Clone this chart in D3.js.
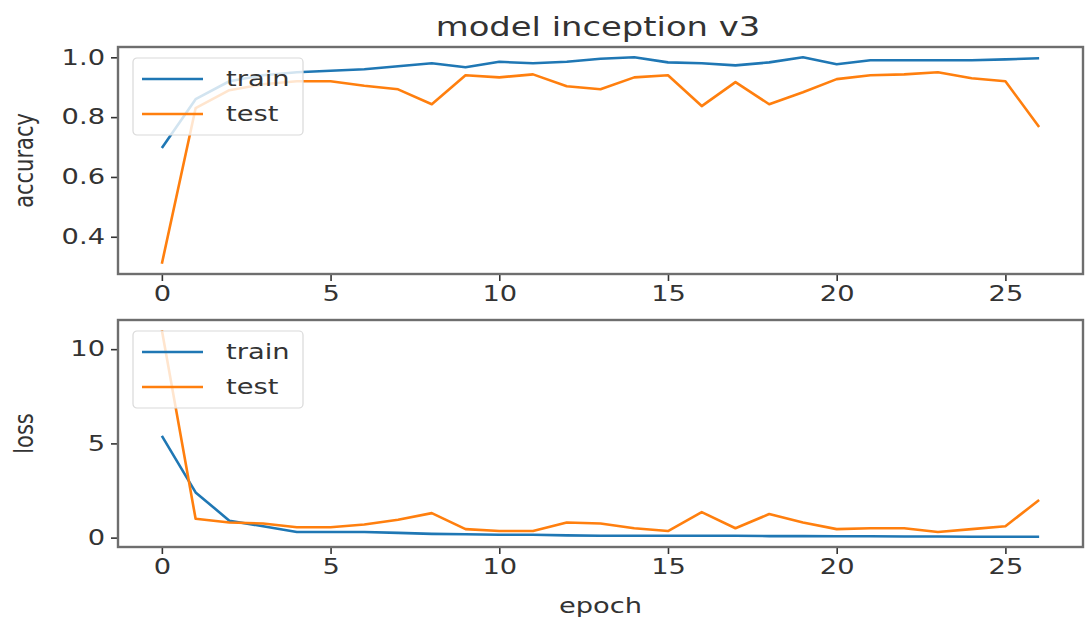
<!DOCTYPE html>
<html>
<head>
<meta charset="utf-8">
<script src="https://cdn.jsdelivr.net/npm/d3@7"></script>
<style>
  body { margin: 0; background: #fff; }
  text { font-family: "DejaVu Sans", sans-serif; fill: #333; }
</style>
</head>
<body>
<div class="chart"></div>
<script>
// Values
var epochs = d3.range(0, 27);
var accTrain = [0.697, 0.86, 0.92, 0.94, 0.95, 0.955, 0.96, 0.97, 0.98, 0.967, 0.985, 0.98, 0.985, 0.995, 1.0,
  0.983, 0.98, 0.973, 0.983, 1.0, 0.977, 0.99, 0.99, 0.99, 0.99, 0.993, 0.997];
var accTest = [0.31, 0.83, 0.89, 0.91, 0.92, 0.92, 0.905, 0.893, 0.843, 0.94, 0.933, 0.943, 0.903, 0.893, 0.933,
  0.94, 0.837, 0.917, 0.843, 0.883, 0.927, 0.94, 0.943, 0.95, 0.93, 0.92, 0.767];
var lossTrain = [5.4, 2.4, 0.9, 0.6, 0.3, 0.3, 0.3, 0.25, 0.2, 0.18, 0.15, 0.15, 0.12, 0.1, 0.1,
  0.1, 0.1, 0.1, 0.08, 0.08, 0.07, 0.07, 0.06, 0.06, 0.05, 0.05, 0.05];
var lossTest = [11.0, 1.0, 0.8, 0.75, 0.55, 0.55, 0.7, 0.95, 1.3, 0.45, 0.35, 0.35, 0.8, 0.75, 0.5,
  0.35, 1.35, 0.5, 1.25, 0.8, 0.45, 0.5, 0.5, 0.3, 0.45, 0.6, 2.0];
var xTicks = [0, 5, 10, 15, 20, 25];
var accTicks = [0.4, 0.6, 0.8, 1.0];
var lossTicks = [0, 5, 10];
var seriesNames = ["train", "test"];
var colors = ["#1f77b4", "#ff7f0e"];

var width = 1086, height = 626;
var left = 118, right = 1083;
var stretch = 1.3; // the picture's text is wider than it is tall

var svg = d3.select(".chart").append("svg")
  .attr("width", width)
  .attr("height", height);

// x scale shared by both panels (matplotlib style 5% margins)
var x = d3.scaleLinear()
  .domain([-1.3, 27.3])
  .range([left, right]);

function padded(arrs) {
  var all = [].concat.apply([], arrs);
  var lo = d3.min(all), hi = d3.max(all), m = (hi - lo) * 0.05;
  return [lo - m, hi + m];
}

function stretchText(sel, tx, ty, rot) {
  sel.attr("transform", "translate(" + tx + "," + ty + ") scale(" + stretch + ",1)" + (rot ? " rotate(" + rot + ")" : ""));
}

function panel(top, bottom, train, test, yTicks, yFormat, yLabel, xLabel) {
  var y = d3.scaleLinear()
    .domain(padded([train, test]))
    .range([bottom, top]);

  var g = svg.append("g");

  // lines
  var line = d3.line()
    .x(function(d, i) { return x(epochs[i]); })
    .y(function(d) { return y(d); });

  [train, test].forEach(function(s, i) {
    g.append("path")
      .datum(s)
      .attr("fill", "none")
      .attr("stroke", colors[i])
      .attr("stroke-width", 2.6)
      .attr("stroke-linejoin", "round")
      .attr("d", line);
  });

  // axes
  var xAxis = g.append("g")
    .attr("transform", "translate(0," + bottom + ")")
    .call(d3.axisBottom(x).tickValues(xTicks).tickSize(7).tickPadding(5).tickSizeOuter(0));
  var yAxis = g.append("g")
    .attr("transform", "translate(" + left + ",0)")
    .call(d3.axisLeft(y).tickValues(yTicks).tickFormat(yFormat).tickSize(7).tickPadding(6).tickSizeOuter(0));

  [xAxis, yAxis].forEach(function(a) {
    a.select(".domain").remove();
    a.selectAll(".tick line").attr("stroke", "#333").attr("stroke-width", 1.6);
    a.selectAll(".tick text")
      .style("font-size", "21px")
      .attr("fill", "#333");
  });
  // stretch tick labels horizontally around their anchor
  xAxis.selectAll(".tick text").each(function() {
    var t = d3.select(this);
    t.attr("transform", "scale(" + stretch + ",1)").attr("x", 0);
  });
  yAxis.selectAll(".tick text").each(function() {
    var t = d3.select(this);
    var tx = +t.attr("x");
    t.attr("x", 0).attr("transform", "translate(" + tx + ",0) scale(" + stretch + ",1)");
  });

  // frame
  g.append("rect")
    .attr("x", left)
    .attr("y", top)
    .attr("width", right - left)
    .attr("height", bottom - top)
    .attr("fill", "none")
    .attr("stroke", "#6e6e6e")
    .attr("stroke-width", 2.4);

  // legend
  var lg = g.append("g").attr("transform", "translate(133," + (top + 11) + ")");
  lg.append("rect")
    .attr("width", 170)
    .attr("height", 77)
    .attr("rx", 4)
    .attr("fill", "#fff")
    .attr("fill-opacity", 0.8)
    .attr("stroke", "#d9d9d9")
    .attr("stroke-width", 1.2);
  seriesNames.forEach(function(name, i) {
    var ly = 21 + i * 35;
    lg.append("line")
      .attr("x1", 9).attr("x2", 70)
      .attr("y1", ly).attr("y2", ly)
      .attr("stroke", colors[i])
      .attr("stroke-width", 2.6);
    lg.append("text")
      .text(name)
      .style("font-size", "21px")
      .attr("dy", "0.35em")
      .call(stretchText, 93, ly);
  });

  // y label
  g.append("text")
    .text(yLabel)
    .attr("text-anchor", "middle")
    .style("font-size", "21px")
    .call(stretchText, 33, (top + bottom) / 2, -90);

  if (xLabel) {
    g.append("text")
      .text(xLabel)
      .attr("text-anchor", "middle")
      .style("font-size", "21px")
      .call(stretchText, (left + right) / 2, 613);
  }
}

panel(47, 274, accTrain, accTest, accTicks, d3.format(".1f"), "accuracy", null);
panel(320, 547, lossTrain, lossTest, lossTicks, d3.format("d"), "loss", "epoch");

// title
svg.append("text")
  .text("model inception v3")
  .attr("text-anchor", "middle")
  .style("font-size", "26px")
  .call(stretchText, 598, 36);
</script>
</body>
</html>
